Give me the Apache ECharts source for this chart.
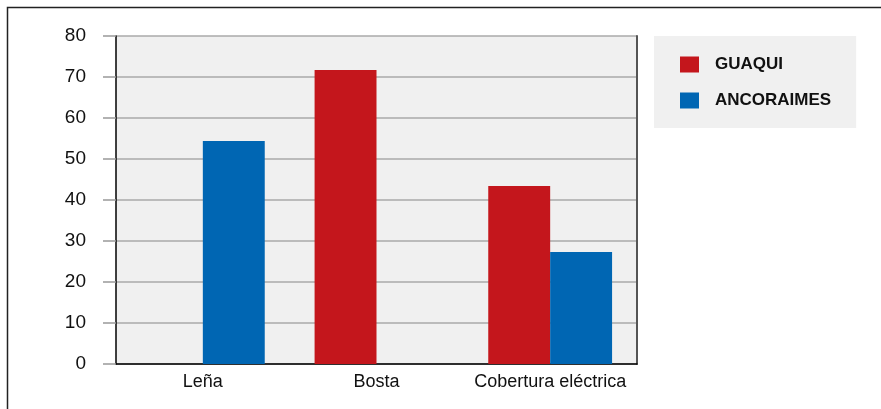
<!DOCTYPE html>
<html>
<head>
<meta charset="utf-8">
<script src="https://cdn.jsdelivr.net/npm/echarts@6/dist/echarts.min.js"></script>
<style>
  html, body { margin: 0; padding: 0; background: #fff; }
  #chart { width: 881px; height: 409px; }
</style>
</head>
<body>
<div id="chart"></div>
<script>
///////////////////////////////////////////////////
// Data
///////////////////////////////////////////////////
var categories = ['Leña', 'Bosta', 'Cobertura eléctrica'];
var guaqui = [null, 71.7, 43.4];
var ancoraimes = [54.4, null, 27.3];
var seriesNames = ['GUAQUI', 'ANCORAIMES'];
var yMin = 0, yMax = 80, yStep = 10;

///////////////////////////////////////////////////
// Chart
///////////////////////////////////////////////////
var font = '"Liberation Sans", Arial, sans-serif';
var chart = echarts.init(document.getElementById('chart'), null, { renderer: 'canvas' });

var option = {
  animation: false,
  textStyle: { fontFamily: font },
  color: ['#c4161c', '#0066b3'],
  grid: {
    left: 116, right: 244, top: 36, bottom: 45,
    show: true, backgroundColor: '#f0f0f0', borderWidth: 0
  },
  legend: {
    orient: 'vertical',
    left: 654, top: 36,
    backgroundColor: '#f0f0f0',
    padding: [20, 25, 19, 26],
    itemWidth: 19, itemHeight: 16, itemGap: 19,
    icon: 'rect',
    textStyle: { fontFamily: font, fontSize: 17, fontWeight: 'bold', color: '#111', padding: [0, 0, 0, 11] },
    data: seriesNames
  },
  xAxis: {
    type: 'category',
    data: categories,
    axisLine: { lineStyle: { color: '#000', width: 1.5 } },
    axisTick: { length: 9, lineStyle: { color: '#000' } },
    axisLabel: { interval: 0, fontSize: 18, color: '#111', margin: 9 }
  },
  yAxis: [{
    type: 'value',
    min: yMin, max: yMax, interval: yStep,
    axisLine: { show: true, lineStyle: { color: '#000', width: 1.5 } },
    axisTick: { show: true, length: 13, lineStyle: { color: '#999', width: 1.5 } },
    axisLabel: { fontSize: 19, color: '#111', margin: 30 },
    splitLine: { lineStyle: { color: '#aaa', width: 1.5 } }
  }, {
    type: 'value',
    position: 'right',
    min: yMin, max: yMax, interval: yStep,
    axisLine: { show: true, lineStyle: { color: '#555', width: 2 } },
    axisTick: { show: false },
    axisLabel: { show: false },
    splitLine: { show: false }
  }],
  series: [{
    name: seriesNames[0], type: 'bar', data: guaqui,
    barGap: '0%', barCategoryGap: '28.7%'
  }, {
    name: seriesNames[1], type: 'bar', data: ancoraimes,
    barGap: '0%', barCategoryGap: '28.7%'
  }],
  graphic: [{
    type: 'rect',
    shape: { x: 7.5, y: 7.5, width: 900, height: 500 },
    style: { fill: 'none', stroke: '#222', lineWidth: 1.5 },
    silent: true
  }]
};

chart.setOption(option);
</script>
</body>
</html>
